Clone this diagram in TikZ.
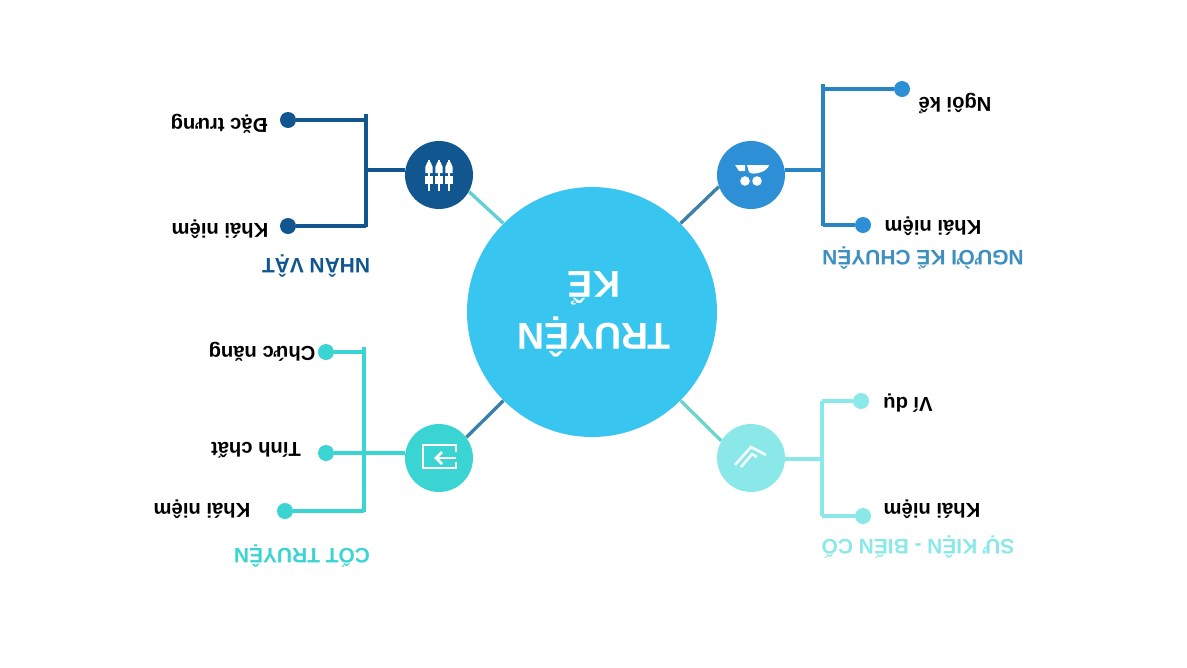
\documentclass[tikz,border=0pt]{standalone}
\usepackage{fontspec}
\setmainfont{Liberation Sans}
\usetikzlibrary{positioning,calc}
\definecolor{cCentre}{HTML}{38C6F0}
\definecolor{cNhan}{HTML}{11568F}
\definecolor{cNguoi}{HTML}{2D8FD5}
\definecolor{cCot}{HTML}{3AD5D3}
\definecolor{cSu}{HTML}{8AE8E8}
\definecolor{cLinkA}{HTML}{63D0D6}
\definecolor{cLinkB}{HTML}{3A80A8}
\definecolor{cLinkC}{HTML}{6DD5CC}
\definecolor{cTitleB}{HTML}{3D8FC0}

\begin{document}
\begin{tikzpicture}[
  x=0.02cm, y=-0.02cm,
  hub/.style={circle, fill=#1, minimum size=1.36cm, inner sep=0pt},
  dot/.style={circle, fill=#1, minimum size=0.32cm, inner sep=0pt},
  lbl/.style={rotate=180, anchor=base, text=black,
    font=\fontsize{11.5}{13}\selectfont\bfseries},
  ttl/.style={rotate=180, anchor=base, text=#1,
    font=\fontsize{11.9}{14}\selectfont\bfseries},
  arr/.style={line width=1.9pt, draw=#1},
  ico/.style={line width=1.5pt, draw=white},
]
  \useasboundingbox (0,0) rectangle (1187,667);

  % ── Centre and hubs ─────────────────────────────────────────────────────
  \node[circle, fill=cCentre, minimum size=5cm, inner sep=0pt] (centre) at (592,312) {};
  \node[rotate=180, text=white, align=center,
        font=\fontsize{21.3}{29.5}\selectfont\bfseries] (cname) at (594,314) {TRUYỆN\\KỂ};
  \node[hub=cNhan]  (nvhub) at (439,175) {};
  \node[hub=cNguoi] (nkhub) at (751,175) {};
  \node[hub=cCot]   (cthub) at (439,458) {};
  \node[hub=cSu]    (skhub) at (751,458) {};

  % ── Leaf dots ───────────────────────────────────────────────────────────
  \node[dot=cNhan]  (nvdot1) at (288,120) {};
  \node[dot=cNhan]  (nvdot2) at (288,226) {};
  \node[dot=cNguoi] (nkdot1) at (902,89)  {};
  \node[dot=cNguoi] (nkdot2) at (863,225) {};
  \node[dot=cCot]   (ctdot1) at (326,352) {};
  \node[dot=cCot]   (ctdot2) at (326,453) {};
  \node[dot=cCot]   (ctdot3) at (285,511) {};
  \node[dot=cSu]    (skdot1) at (861,401) {};
  \node[dot=cSu]    (skdot2) at (863,516) {};

  % ── Labels ──────────────────────────────────────────────────────────────
  \node[lbl] (nvtxt1) at (219,118) {Đặc trưng};
  \node[lbl] (nvtxt2) at (220,223) {Khái niệm};
  \node[ttl=cNhan] (nvname) at (316,258) {NHÂN VẬT};
  \node[lbl] (nktxt1) at (955,97)  {Ngôi kể};
  \node[lbl] (nktxt2) at (933,220) {Khái niệm};
  \node[ttl=cTitleB] (nkname) at (923,250) {NGƯỜI KỂ CHUYỆN};
  \node[lbl] (cttxt1) at (262,346) {Chức năng};
  \node[lbl] (cttxt2) at (256,442) {Tính chất};
  \node[lbl] (cttxt3) at (202,503) {Khái niệm};
  \node[ttl=cCot] (ctname) at (302,548) {CỐT TRUYỆN};
  \node[lbl] (sktxt1) at (908,397) {Ví dụ};
  \node[lbl] (sktxt2) at (932,503) {Khái niệm};
  \node[ttl=cSu] (skname) at (918,539) {SỰ KIỆN - BIẾN CỐ};

  % ── Centre to hubs ──────────────────────────────────────────────────────
  \draw[arr=cLinkA] (centre.135) -- (nvhub.-29);
  \draw[arr=cLinkB] (centre.45)  -- (nkhub.200);
  \draw[arr=cLinkB] (centre.225) -- (cthub.37);
  \draw[arr=cLinkC] (centre.-45) -- (skhub.150);

  % ── Nhan vat branch ─────────────────────────────────────────────────────
  \coordinate (nvtop)  at (366,114);
  \coordinate (nvbot)  at (366,227);
  \coordinate (nvjoin) at (366,170);
  \draw[arr=cNhan] (nvtop) -- (nvbot);
  \draw[arr=cNhan] (nvjoin) -- (nvjoin -| nvhub.west);
  \draw[arr=cNhan] (nvdot1) -- (nvdot1 -| nvtop);
  \draw[arr=cNhan] (nvdot2) -- (nvdot2 -| nvtop);

  % ── Nguoi ke branch ─────────────────────────────────────────────────────
  \coordinate (nktop)  at (823,84);
  \coordinate (nkbot)  at (823,226);
  \coordinate (nkjoin) at (823,170);
  \draw[arr=cNguoi!92!black] (nktop) -- (nkbot);
  \draw[arr=cNguoi!92!black] (nkjoin) -- (nkjoin -| nkhub.east);
  \draw[arr=cNguoi!92!black] (nkdot1) -- (nkdot1 -| nktop);
  \draw[arr=cNguoi!92!black] (nkdot2) -- (nkdot2 -| nktop);

  % ── Cot truyen branch ───────────────────────────────────────────────────
  \coordinate (cttop) at (364,347);
  \coordinate (ctbot) at (364,512);
  \draw[arr=cCot, line width=2.4pt] (cttop) -- (ctbot);
  \draw[arr=cCot] (ctdot1) -- (ctdot1 -| cttop);
  \draw[arr=cCot] (ctdot2) -- (ctdot2 -| cthub.west);
  \draw[arr=cCot] (ctdot3) -- (ctdot3 -| cttop);

  % ── Su kien branch ──────────────────────────────────────────────────────
  \coordinate (sktop)  at (822,401);
  \coordinate (skbot)  at (822,516);
  \coordinate (skjoin) at (822,459);
  \draw[arr=cSu] (sktop) -- (skbot);
  \draw[arr=cSu] (skjoin) -- (skjoin -| skhub.east);
  \draw[arr=cSu] (skdot1) -- (skdot1 -| sktop);
  \draw[arr=cSu] (skdot2) -- (skdot2 -| sktop);

  % ── Icons ───────────────────────────────────────────────────────────────
  \foreach \px in {429,439,449}{
    \draw[white, line width=1pt] (\px,160) -- (\px,191);
    \fill[white] (\px-3.7,173) -- (\px-3.7,167) -- (\px-1.5,162) -- (\px+1.5,162)
      -- (\px+3.7,167) -- (\px+3.7,173) -- cycle;
    \fill[white] (\px-3.7,176) rectangle (\px+3.7,184);
  }
  \fill[white] (735,165) -- (745,165) -- (745,171) -- (739,171) -- cycle;
  \fill[white] (747,165) -- (769,165) .. controls (768,172) and (752,176) .. (749,172) -- cycle;
  \fill[white] (745,181) circle (4.8) (757,181) circle (4.8);
  \draw[ico] (456,452) -- (456,445) -- (423,445) -- (423,468) -- (456,468) -- (456,462);
  \draw[ico] (456,458) -- (436,458);
  \draw[ico] (442,452) -- (436,458) -- (442,464);
  \draw[ico, white!90!cSu] (735,465) -- (751,447) -- (766,455);
  \draw[ico, white!90!cSu] (741,467) -- (752,454) -- (757,457);

\end{tikzpicture}
\end{document}
